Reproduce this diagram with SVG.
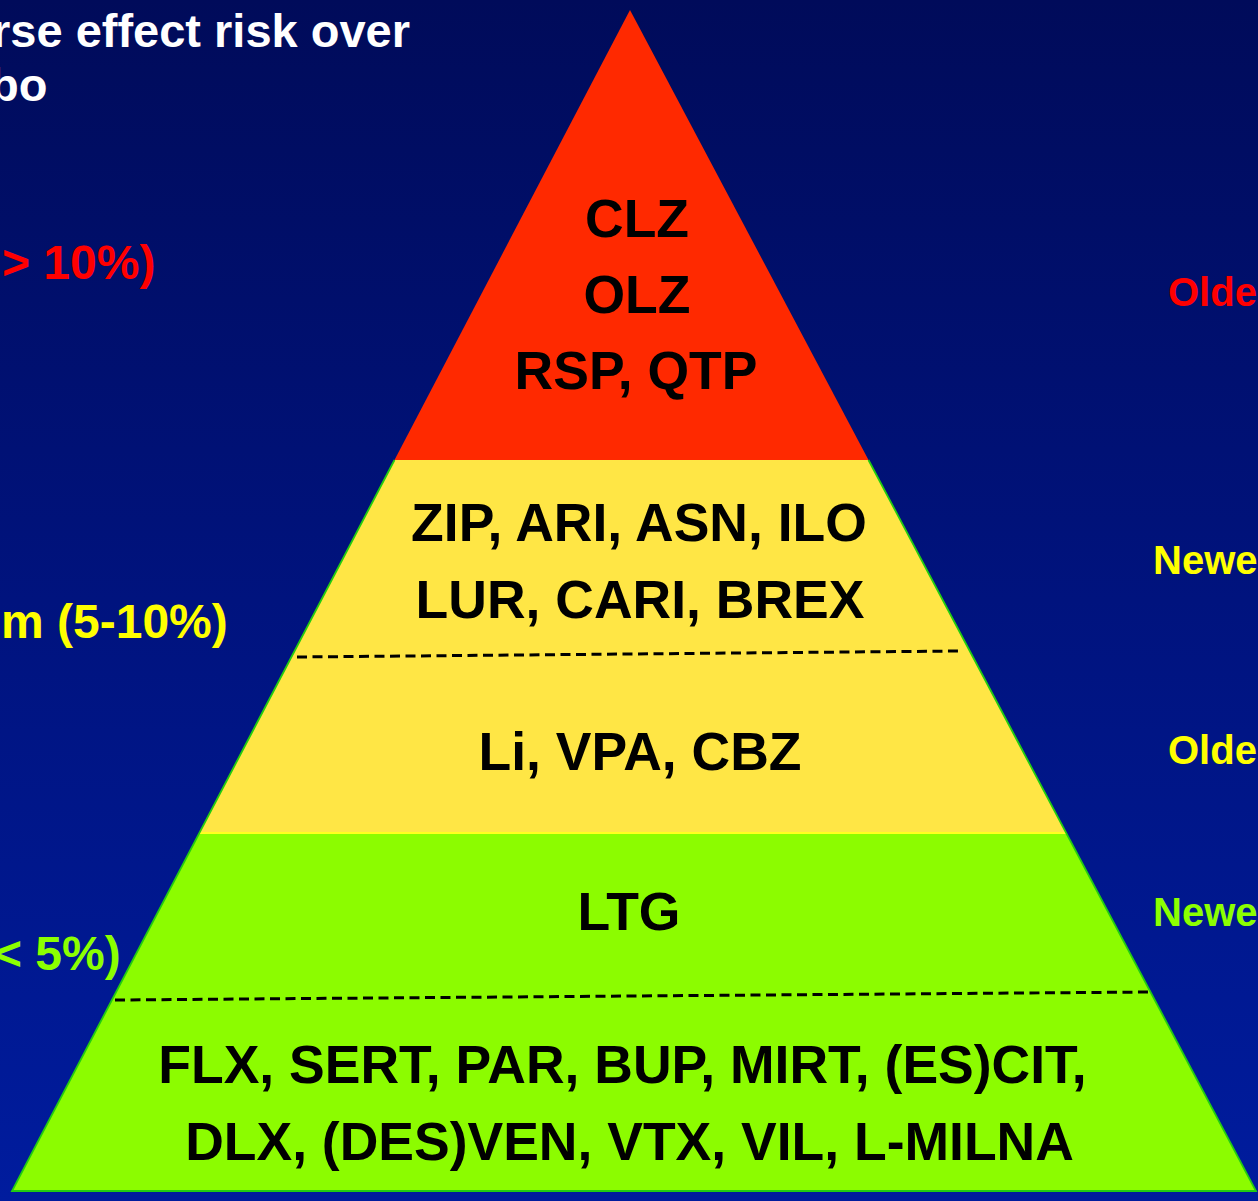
<svg xmlns="http://www.w3.org/2000/svg" width="1258" height="1201" viewBox="0 0 1258 1201">
  <defs>
    <linearGradient id="bg" x1="0" y1="0" x2="0" y2="1">
      <stop offset="0" stop-color="#000b5a"/>
      <stop offset="0.5" stop-color="#00137e"/>
      <stop offset="1" stop-color="#001c9e"/>
    </linearGradient>
    <style>
      text { font-family: "Liberation Sans", Arial, Helvetica, sans-serif; font-weight: bold; }
      .in { font-size: 53.5px; fill: #000000; text-anchor: middle; }
      .left { font-size: 48px; }
      .right { font-size: 40px; }
      .sep { stroke: #000000; stroke-width: 3; stroke-dasharray: 10 5.5; fill: none; }
    </style>
  </defs>

  <rect id="background" x="0" y="0" width="1258" height="1201" fill="url(#bg)"/>

  <g id="title">
    <text x="-8" y="47" font-size="47" fill="#ffffff">rse effect risk over</text>
    <text x="-10" y="101" font-size="47" fill="#ffffff">bo</text>
  </g>

  <g id="risk-labels">
    <text class="left" x="2" y="279" fill="#ff0000">&gt; 10%)</text>
    <text class="left" x="1" y="638" fill="#ffff00">m (5-10%)</text>
    <text class="left" x="-6" y="970" fill="#8cff00">&lt; 5%)</text>
  </g>

  <g id="age-labels">
    <text class="right" x="1168" y="306" fill="#ff0000">Olde</text>
    <text class="right" x="1153" y="574" fill="#ffff00">Newe</text>
    <text class="right" x="1168" y="764" fill="#ffff00">Olde</text>
    <text class="right" x="1153" y="926" fill="#8cff00">Newe</text>
  </g>

  <g id="tier-high">
    <polygon points="630,10 868.5,460 394.5,460" fill="#ff2900"/>
    <text class="in" x="637" y="237">CLZ</text>
    <text class="in" x="637" y="313">OLZ</text>
    <text class="in" x="636" y="389">RSP, QTP</text>
  </g>

  <g id="tier-medium">
    <polygon points="394.5,460 868.5,460 1066.2,833 199.3,833" fill="#ffe645"/>
    <text class="in" x="639" y="541">ZIP, ARI, ASN, ILO</text>
    <text class="in" x="640" y="618">LUR, CARI, BREX</text>
    <text class="in" x="640" y="770">Li, VPA, CBZ</text>
  </g>

  <g id="tier-low">
    <polygon points="199.3,833 1066.2,833 1256,1191 12,1191" fill="#8cfc00"/>
    <line x1="200" y1="833" x2="1066" y2="833" stroke="#ffff20" stroke-width="2"/>
    <text class="in" x="629" y="930">LTG</text>
    <text class="in" x="622.5" y="1083">FLX, SERT, PAR, BUP, MIRT, (ES)CIT,</text>
    <text class="in" x="629.5" y="1160">DLX, (DES)VEN, VTX, VIL, L-MILNA</text>
  </g>

  <g id="outline">
    <path d="M394.5,460 L12,1191 L1256,1191 L868.5,460" fill="none" stroke="#22cc11" stroke-width="1.8" stroke-linejoin="miter"/>
  </g>

  <g id="connectors">
    <line class="sep" x1="297" y1="657" x2="960" y2="651"/>
    <line class="sep" x1="115" y1="1000" x2="1153" y2="992"/>
  </g>
</svg>
